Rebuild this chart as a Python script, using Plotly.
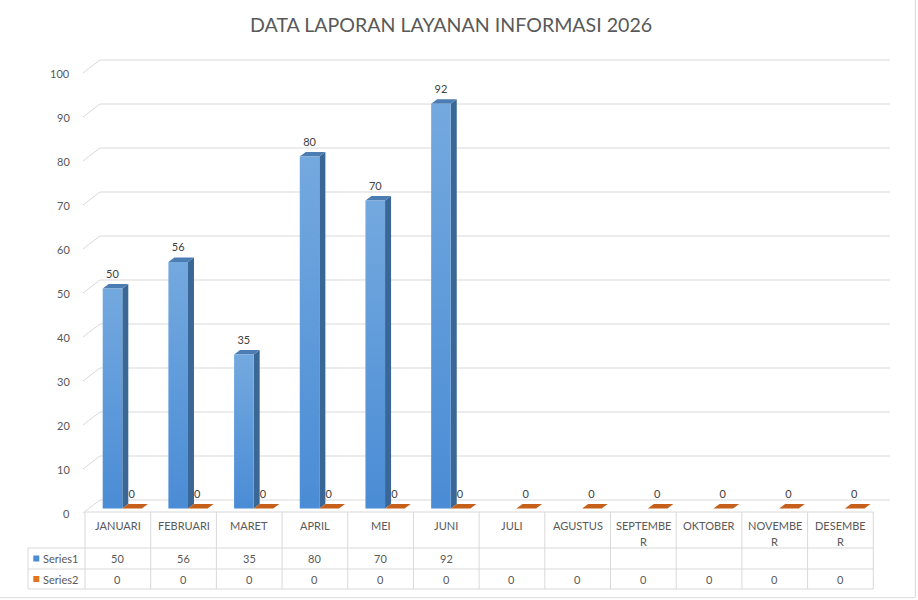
import plotly.graph_objects as go

# ---------------- data ----------------
months = ["JANUARI", "FEBRUARI", "MARET", "APRIL", "MEI", "JUNI", "JULI",
          "AGUSTUS", "SEPTEMBER", "OKTOBER", "NOVEMBER", "DESEMBER"]
month_lines = [["JANUARI"], ["FEBRUARI"], ["MARET"], ["APRIL"], ["MEI"], ["JUNI"],
               ["JULI"], ["AGUSTUS"], ["SEPTEMBE", "R"], ["OKTOBER"], ["NOVEMBE", "R"],
               ["DESEMBE", "R"]]
series1 = [50, 56, 35, 80, 70, 92, None, None, None, None, None, None]
series2 = [0, 0, 0, 0, 0, 0, 0, 0, 0, 0, 0, 0]
series_names = ["Series1", "Series2"]
y_ticks = [0, 10, 20, 30, 40, 50, 60, 70, 80, 90, 100]
title = "DATA LAPORAN LAYANAN INFORMASI 2026"

# ---------------- geometry (pixel based style constants) ----------------
W, H = 918, 600
COL_W = 65.69          # px per category
X_LEFT = 85.0          # px of left edge of first category column
PX_PER_UNIT = 4.4      # px per value unit
Y_ZERO = 508.5         # px of value 0 on bar front plane

x_rng = [-0.5 - X_LEFT / COL_W, -0.5 + (W - X_LEFT) / COL_W]
y_rng = [(Y_ZERO - H) / PX_PER_UNIT, Y_ZERO / PX_PER_UNIT]

def dx(px):
    return px / COL_W

def dy(px):
    return px / PX_PER_UNIT

def xpx(xd):
    return X_LEFT + (xd + 0.5) * COL_W

BAR_OFF = dx(102.7 - 117.85)
BAR_W = dx(19.6)
DEP_X = dx(6.0)
DEP_Y = dy(4.5)

BLUE_TOP, BLUE_BOT = "#74A9DF", "#4A8CD5"
BLUE_SIDE = "#3A6796"
BLUE_CAP = "#4C7DB2"
ORANGE_CAP = "#C65F1A"
GRID = "#D9D9D9"
TXT = "#595959"
FONT = "Lato"

fig = go.Figure()

# ---------------- 3D gridlines ----------------
gx, gy = [], []
for t in y_ticks:
    gx += [dx(83 - X_LEFT) - 0.5, dx(100 - X_LEFT) - 0.5, dx(890 - X_LEFT) - 0.5, None]
    gy += [t - dy(4.5), t + dy(8.5), t + dy(8.5), None]
fig.add_trace(go.Scatter(x=gx, y=gy, mode="lines", line=dict(color=GRID, width=1),
                         hoverinfo="skip", showlegend=False))

# ---------------- series 1 bars ----------------
for i, v in enumerate(series1):
    if v is None:
        continue
    xl = i + BAR_OFF
    xr = xl + BAR_W
    # side face
    fig.add_trace(go.Scatter(x=[xr, xr + DEP_X, xr + DEP_X, xr, xr],
                             y=[0, DEP_Y, v + DEP_Y, v, 0],
                             fill="toself", fillcolor=BLUE_SIDE, mode="lines",
                             line=dict(width=0, color=BLUE_SIDE),
                             hoverinfo="skip", showlegend=False))
    # top face
    fig.add_trace(go.Scatter(x=[xl, xr, xr + DEP_X, xl + DEP_X, xl],
                             y=[v, v, v + DEP_Y, v + DEP_Y, v],
                             fill="toself", fillcolor=BLUE_CAP, mode="lines",
                             line=dict(width=0, color=BLUE_CAP),
                             hoverinfo="skip", showlegend=False))
    # front face with gradient
    fig.add_trace(go.Scatter(x=[xl, xr, xr, xl, xl], y=[0, 0, v, v, 0],
                             fill="toself", mode="lines",
                             line=dict(width=0, color=BLUE_BOT),
                             fillgradient=dict(type="vertical", start=0, stop=v,
                                               colorscale=[[0, BLUE_BOT], [1, BLUE_TOP]]),
                             hoverinfo="skip", showlegend=False))

# ---------------- series 2 (zero height) ----------------
for i, v in enumerate(series2):
    xl = i + BAR_OFF + BAR_W
    xr = xl + BAR_W
    fig.add_trace(go.Scatter(x=[xl, xr, xr + DEP_X, xl + DEP_X, xl],
                             y=[v, v, v + DEP_Y, v + DEP_Y, v],
                             fill="toself", fillcolor=ORANGE_CAP, mode="lines",
                             line=dict(width=0, color=ORANGE_CAP),
                             hoverinfo="skip", showlegend=False))

# ---------------- data labels ----------------
lx, ly, lt = [], [], []
for i, v in enumerate(series1):
    if v is None:
        continue
    lx.append(i + BAR_OFF + BAR_W / 2)
    ly.append(v + dy(13.5))
    lt.append(str(v))
for i, v in enumerate(series2):
    lx.append(i + BAR_OFF + BAR_W * 1.5 - dx(0.5))
    ly.append(v + dy(13.5))
    lt.append(str(v))
fig.add_trace(go.Scatter(x=lx, y=ly, text=lt, mode="text",
                         textfont=dict(family=FONT, size=11, color="#404040"),
                         hoverinfo="skip", showlegend=False))

annotations = []
shapes = []

def py(px):
    return 1 - px / H

# ---------------- y tick labels ----------------
for t in y_ticks:
    annotations.append(dict(x=72 / W, xref="paper", y=t - dy(4.5), yref="y",
                            text=str(t), showarrow=False, xanchor="right", yanchor="middle",
                            font=dict(family=FONT, size=11, color=TXT)))

# ---------------- data table ----------------
n = len(months)
T_TOP, R1, R2, R3 = 512, 548, 569, 589
LEG_L = 28
line = dict(color=GRID, width=1)
x_first = -0.5
x_last = n - 0.5
shapes.append(dict(type="line", xref="x", yref="paper", x0=x_first, x1=x_last,
                   y0=py(T_TOP), y1=py(T_TOP), line=line))
for yy in (R1, R2, R3):
    shapes.append(dict(type="line", xref="paper", yref="paper", x0=LEG_L / W,
                       x1=xpx(x_last) / W, y0=py(yy), y1=py(yy), line=line))
for k in range(n + 1):
    xb = k - 0.5
    shapes.append(dict(type="line", xref="x", yref="paper", x0=xb, x1=xb,
                       y0=py(T_TOP), y1=py(R3), line=line))
shapes.append(dict(type="line", xref="paper", yref="paper", x0=LEG_L / W, x1=LEG_L / W,
                   y0=py(R1), y1=py(R3), line=line))

for i, lines in enumerate(month_lines):
    for j, s in enumerate(lines):
        annotations.append(dict(x=i, xref="x", y=py(525 + j * 16.7), yref="paper", text=s,
                                showarrow=False, xanchor="center", yanchor="middle",
                                font=dict(family=FONT, size=11, color=TXT)))
for row_y, vals in ((558.5, series1), (579, series2)):
    for i, v in enumerate(vals):
        if v is None:
            continue
        annotations.append(dict(x=i, xref="x", y=py(row_y), yref="paper", text=str(v),
                                showarrow=False, xanchor="center", yanchor="middle",
                                font=dict(family=FONT, size=11, color=TXT)))

# legend keys
for row_y, name, col in ((558.5, series_names[0], "#4A8CD5"), (579, series_names[1], "#E2741E")):
    shapes.append(dict(type="rect", xref="paper", yref="paper", x0=33.3 / W, x1=39.3 / W,
                       y0=py(row_y + 3), y1=py(row_y - 3), fillcolor=col, line=dict(width=0)))
    annotations.append(dict(x=40.5 / W, xref="paper", y=py(row_y), yref="paper", text=name,
                            showarrow=False, xanchor="left", yanchor="middle",
                            font=dict(family=FONT, size=11, color=TXT)))

# chart border (right and bottom visible)
shapes.append(dict(type="line", xref="paper", yref="paper", x0=915.3 / W, x1=915.3 / W,
                   y0=py(0), y1=py(597.7), line=line))
shapes.append(dict(type="line", xref="paper", yref="paper", x0=0, x1=915.3 / W,
                   y0=py(597.7), y1=py(597.7), line=line))

# title
annotations.append(dict(x=450.7 / W, xref="paper", y=py(24.5), yref="paper", text=title,
                        showarrow=False, xanchor="center", yanchor="middle",
                        font=dict(family=FONT, size=19.6, color=TXT)))

fig.update_layout(
    width=W, height=H,
    margin=dict(l=0, r=0, t=0, b=0),
    paper_bgcolor="white", plot_bgcolor="white",
    xaxis=dict(range=x_rng, visible=False, fixedrange=True),
    yaxis=dict(range=y_rng, visible=False, fixedrange=True),
    showlegend=False,
    shapes=shapes,
    annotations=annotations,
)

fig.write_html("out.html")
